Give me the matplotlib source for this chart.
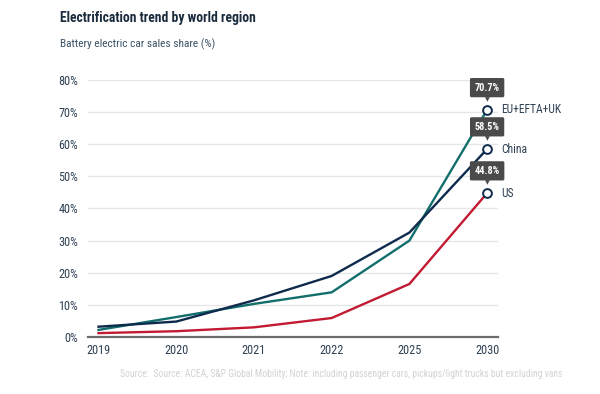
import matplotlib.pyplot as plt

plt.rcParams['font.family'] = ['Roboto Condensed', 'Liberation Sans Narrow', 'Roboto', 'DejaVu Sans']

# data
years = ['2019', '2020', '2021', '2022', '2025', '2030']
eu = [2.2, 6.2, 10.3, 13.9, 30.0, 70.7]
china = [3.2, 4.8, 11.4, 19.0, 32.5, 58.5]
us = [1.2, 1.8, 3.0, 5.9, 16.5, 44.8]
names = ['EU+EFTA+UK', 'China', 'US']
colors = ['#126e6c', '#0e2a4c', '#c11a32']

text_col = '#2e4053'

fig = plt.figure(figsize=(6, 3.94), dpi=100)
ax = fig.add_axes([0.146, 0.1447, 0.684, 0.6523])

x = list(range(len(years)))
for vals, col in zip([eu, china, us], colors):
    ax.plot(x, vals, color=col, lw=1.7, solid_joinstyle='miter', zorder=3)

for vals, name in zip([eu, china, us], names):
    xe, ye = x[-1], vals[-1]
    ax.plot(xe, ye, 'o', ms=6.3, mfc='white', mec='#0e2a4c', mew=1.4,
            zorder=5, clip_on=False)
    ax.annotate(name, (xe, ye), xytext=(10, 0), textcoords='offset points',
                ha='left', va='center', fontsize=8.3, color=text_col)
    ax.annotate(f'{ye:.1f}%', (xe, ye), xytext=(0, 16), textcoords='offset points',
                ha='center', va='center', fontsize=7.4, fontweight='bold', color='white',
                bbox=dict(boxstyle='round,pad=0.45,rounding_size=0.15', fc='#4a4a4a', ec='none'),
                zorder=6)
    ax.annotate('\u25bc', (xe, ye), xytext=(0, 7.6), textcoords='offset points',
                ha='center', va='center', fontsize=4.5, color='#4a4a4a',
                family='DejaVu Sans', zorder=6)

ax.set_xlim(-0.14, 5.14)
ax.set_ylim(0, 80)
ax.set_xticks(x)
ax.set_xticklabels(years)
ax.set_yticks(range(0, 81, 10))
ax.set_yticklabels([f'{v}%' for v in range(0, 81, 10)])
ax.yaxis.grid(True, color='#e6e6e6', lw=1)
ax.set_axisbelow(True)
for s in ['top', 'right', 'left']:
    ax.spines[s].set_visible(False)
ax.spines['bottom'].set_color('#6b6b6b')
ax.spines['bottom'].set_linewidth(1.6)
ax.spines['bottom'].set_zorder(4)
ax.tick_params(axis='both', length=0, labelsize=8.8, labelcolor=text_col)
ax.tick_params(axis='y', pad=7)
ax.tick_params(axis='x', pad=5)

fig.text(0.1, 0.954, 'Electrification trend by world region', fontsize=9.8,
         fontweight='bold', color='#1a2b3d', va='center')
fig.text(0.1, 0.888, 'Battery electric car sales share (%)', fontsize=8.2,
         color='#3b5266', va='center')
fig.text(0.937, 0.051, 'Source:  Source: ACEA, S&P Global Mobility; Note: including passenger cars, '
         'pickups/light trucks but excluding vans', fontsize=6.9, color='#d2d2d2',
         ha='right', va='center')

fig.savefig('out.png', dpi=100, facecolor='white')
